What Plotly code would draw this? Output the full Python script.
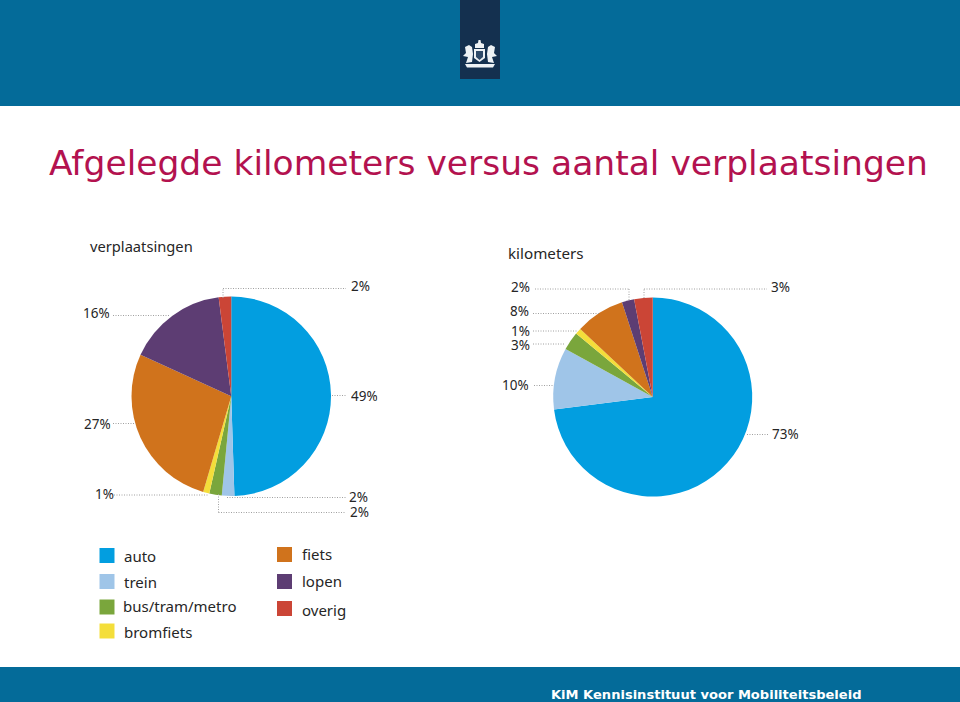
import plotly.graph_objects as go

# ---- data ----
categories = ["auto", "trein", "bus/tram/metro", "bromfiets", "fiets", "lopen", "overig"]
verplaatsingen = [49, 2, 2, 1, 27, 16, 2]
kilometers = [73, 10, 3, 1, 8, 2, 3]
colors = ["#029ee0", "#9fc5e8", "#7aa63c", "#f4de3a", "#d0731c", "#5d3d73", "#cb4536"]
title_text = "Afgelegde kilometers versus aantal verplaatsingen"
footer_text = "KiM Kennisinstituut voor Mobiliteitsbeleid"

W, H = 960, 702
BAND = "#046b99"
NAVY = "#14304f"
DOT = "#a0a0a0"
TXT = "#262626"
SANS = "Noto Sans"


def px(x):
    return x / W


def py(y):
    return 1 - y / H


shapes = []
annotations = []


def rect(x0, y0, x1, y1, color):
    shapes.append(dict(type="rect", xref="paper", yref="paper", x0=px(x0), x1=px(x1),
                       y0=py(y1), y1=py(y0), fillcolor=color, line_width=0, layer="below"))


def poly(points, color="#eef2f5"):
    d = "M" + " L".join(f"{px(x):.5f},{py(y):.5f}" for x, y in points) + " Z"
    shapes.append(dict(type="path", xref="paper", yref="paper", path=d,
                       fillcolor=color, line_width=0, layer="above"))


def leader(points):
    for (x0, y0), (x1, y1) in zip(points[:-1], points[1:]):
        shapes.append(dict(type="line", xref="paper", yref="paper", x0=px(x0), y0=py(y0),
                           x1=px(x1), y1=py(y1), layer="above",
                           line=dict(color=DOT, width=1, dash="1px,1.5px")))


def text(x, y, s, size, anchor="center", color=TXT, family=SANS, bold=False, height=None):
    annotations.append(dict(xref="paper", yref="paper", x=px(x), y=py(y), text=f"<b>{s}</b>" if bold else s,
                            showarrow=False, xanchor=anchor, yanchor="middle", align=anchor,
                            borderpad=0, height=height,
                            font=dict(size=size, color=color, family=family)))


# bands
rect(0, 0, 960, 106, BAND)
rect(0, 667, 960, 702, BAND)
rect(460, 0, 500, 79, NAVY)

# emblem (simplified)
poly([(478.5, 40), (480.5, 40), (481, 43), (484, 44), (484, 48), (475, 48), (475, 44), (478, 43)])
poly([(474, 49), (485, 49), (485, 58), (479.5, 62), (474, 58)])
poly([(476, 51), (483, 51), (483, 57), (479.5, 60), (476, 57)], "#2f4a69")
poly([(465, 47), (469, 45), (472, 47), (473, 54), (472, 62), (466, 63), (468, 57), (463, 56), (466, 53)])
poly([(495, 47), (491, 45), (488, 47), (487, 54), (488, 62), (494, 63), (492, 57), (497, 56), (494, 53)])
poly([(465, 64), (495, 64), (493, 67.5), (467, 67.5)])

# header and footer texts
text(550, 694, footer_text, 13.05, anchor="left", color="#ffffff", family="DejaVu Sans", bold=True)
text(89, 246.5, "verplaatsingen", 14.7, anchor="left")
text(507, 252.5, "kilometers", 15.2, anchor="left")

# percentage labels, in category order
left_labels = [(364, 395.5), (358.5, 497), (359, 511.5), (104, 494), (97, 423.5), (96, 312.5), (360, 286)]
right_labels = [(785, 434), (515, 385), (520, 345), (520, 331), (519, 311), (520, 287), (780, 287)]
for pos, values in ((left_labels, verplaatsingen), (right_labels, kilometers)):
    for (x, y), v in zip(pos, values):
        text(x, y, f"{v}%", 13.5, height=12)

# leader lines
for line in [
    [(223, 298), (223, 288.5), (346, 288.5)],
    [(113, 315.5), (170, 315.5)],
    [(332, 395.5), (346, 395.5)],
    [(113, 423.5), (135, 423.5)],
    [(114, 495), (208, 495)],
    [(227, 497.5), (346, 497.5)],
    [(218.5, 494), (218.5, 512.5), (346, 512.5)],
    [(644, 298), (644, 289), (767, 289)],
    [(535, 289), (629, 289), (629, 300)],
    [(533, 313.5), (600, 313.5)],
    [(533, 331), (578, 331)],
    [(533, 344), (565, 344)],
    [(534, 385.5), (553, 385.5)],
    [(747, 434.5), (768, 434.5)],
]:
    leader(line)

# legend
legend_boxes = [(99.5, 548), (99.5, 574), (99.5, 599.5), (99.5, 623.5), (277, 547), (277, 574), (277, 601)]
legend_text = [(124, 556), (124, 582), (123, 606.5), (124, 632), (302, 554), (302, 581), (302, 610)]
for (bx, by), (tx, ty), name, c in zip(legend_boxes, legend_text, categories, colors):
    rect(bx, by, bx + 15, by + 15, c)
    text(tx - 1, ty - 0.5, name, 15, anchor="left")

pie_common = dict(labels=categories, sort=False, direction="clockwise", rotation=0,
                  marker=dict(colors=colors, line=dict(width=0)), textinfo="none",
                  showlegend=False, hoverinfo="label+percent")

fig = go.Figure()
fig.add_trace(go.Pie(values=verplaatsingen, name="verplaatsingen",
                     domain=dict(x=[px(131), px(331.5)], y=[py(496), py(296.5)]), **pie_common))
fig.add_trace(go.Pie(values=kilometers, name="kilometers",
                     domain=dict(x=[px(552.5), px(753)], y=[py(496.5), py(297.5)]), **pie_common))

fig.update_layout(
    width=W, height=H, autosize=False,
    margin=dict(l=0, r=0, t=0, b=0, pad=0),
    paper_bgcolor="#ffffff", plot_bgcolor="#ffffff",
    title=dict(text=title_text, x=px(49), xanchor="left", xref="paper", y=py(163), yanchor="middle",
               font=dict(family="DejaVu Sans", size=34.5, color="#b3124f")),
    shapes=shapes, annotations=annotations,
)
fig.write_html("out.html", config=dict(displayModeBar=False),
               post_script="document.body.style.margin='0';document.documentElement.style.overflow='hidden';")
